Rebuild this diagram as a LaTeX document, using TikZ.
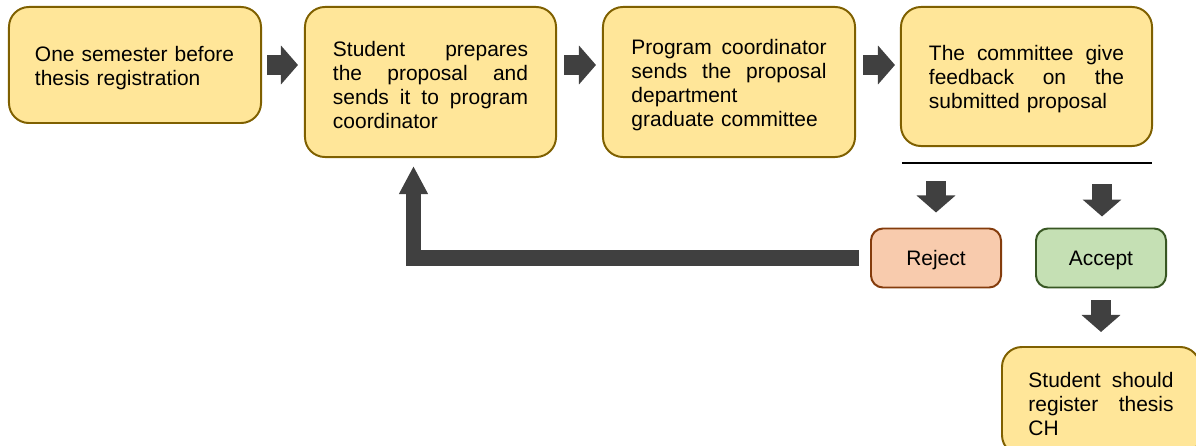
\documentclass[tikz,border=0pt]{standalone}
\usepackage{fontspec}
\setmainfont{Liberation Sans}
\usetikzlibrary{arrows.meta}
\definecolor{boxfill}{HTML}{FFE699}
\definecolor{boxline}{HTML}{7F6000}
\definecolor{rejfill}{HTML}{F8CBAD}
\definecolor{rejline}{HTML}{843C0C}
\definecolor{accfill}{HTML}{C5E0B4}
\definecolor{accline}{HTML}{385723}
\definecolor{arrowgray}{HTML}{404040}
\tikzset{
  stepbox/.style={draw=boxline, fill=boxfill, line width=1.4pt, rounded corners=0.5cm,
    inner sep=0pt, align=left, font=\fontsize{14.9}{17.07}\selectfont,
    execute at begin node=\rule{0pt}{0.52cm}},
  choicebox/.style={line width=1.4pt, rounded corners=0.3cm, minimum width=3.25cm,
    minimum height=1.475cm, font=\fontsize{14.9}{17.07}\selectfont,
    execute at begin node=\rule{0pt}{0.5cm}},
  blockarrow/.style={draw=arrowgray, line width=0.5cm, -{Triangle[width=0.95cm,length=0.425cm]}},
  backarrow/.style={draw=arrowgray, line width=0.375cm, -{Triangle[width=0.675cm,length=0.7cm]}}
}
\begin{document}
\begin{tikzpicture}[x=0.025cm, y=-0.025cm]
\useasboundingbox (0,0) rectangle (1196,446);
\node[stepbox, minimum width=6.3cm, minimum height=2.9cm, text width=5cm] (p1) at (135,65)
  {One semester before\\thesis registration};
\node[stepbox, minimum width=6.275cm, minimum height=3.75cm, text width=4.875cm] (p2) at (430.5,82)
  {Student\hfill prepares\\the\hfill proposal\hfill and\\sends\hfill it\hfill to\hfill program\\coordinator};
\node[stepbox, minimum width=6.3cm, minimum height=3.75cm, text width=4.875cm] (p3) at (729,82)
  {Program\hfill coordinator\\sends\hfill the\hfill proposal\\department\\graduate committee};
\node[stepbox, minimum width=6.275cm, minimum height=3.475cm, text width=4.875cm] (p4) at (1026.5,76.5)
  {The\hfill committee\hfill give\\feedback\hfill on\hfill the\\submitted proposal};
\node[choicebox, draw=rejline, fill=rejfill] (rj) at (936,258) {Reject};
\node[choicebox, draw=accline, fill=accfill] (ac) at (1101,258) {Accept};
\node[stepbox, minimum width=4.95cm, minimum height=2.7cm, text width=3.625cm] (p5) at (1101,401)
  {Student\hfill should\\register\hfill thesis\\CH};

\draw[blockarrow, shorten <=0.125cm, shorten >=0.15cm] (p1.east) -- (p2.west |- p1.east);
\draw[blockarrow, shorten <=0.175cm, shorten >=0.15cm] (p2.east |- p1.east) -- (p3.west |- p1.east);
\draw[blockarrow, shorten <=0.175cm, shorten >=0.125cm] (p3.east |- p1.east) -- (p4.west |- p1.east);

\coordinate (fbl) at ([shift={(2,16)}]p4.south west);
\coordinate (fbr) at ([shift={(-1,16)}]p4.south east);
\draw[line width=0.9pt] (fbl) -- (fbr);
\coordinate (toRj) at (rj.north |- fbl);
\coordinate (toAc) at ([xshift=0.025cm]ac.north |- fbl);
\draw[blockarrow, shorten <=0.45cm, shorten >=0.375cm] (toRj) -- (rj);
\draw[blockarrow, shorten <=0.525cm, shorten >=0.275cm] (toAc) -- (toAc |- ac.north);
\draw[blockarrow, shorten <=0.3cm, shorten >=0.35cm] (ac) -- (p5);

\draw[backarrow, shorten <=0.275cm, shorten >=0.2cm] (rj.west) -| ([xshift=-0.425cm]p2.south);
\end{tikzpicture}
\end{document}
